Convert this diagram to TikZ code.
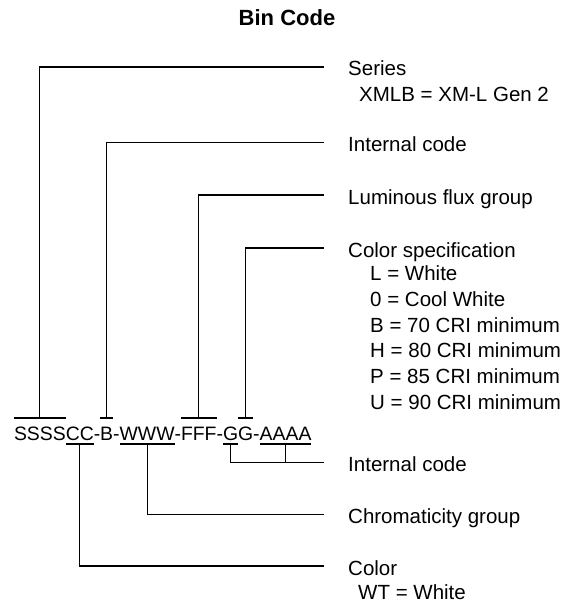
\documentclass[tikz,border=0pt]{standalone}
\usepackage{fontspec}
\setmainfont{Liberation Sans}
\usetikzlibrary{positioning,calc}
\newcommand{\lblfont}{\fontsize{20.5}{24}\selectfont}
\newcommand{\codefont}{\fontsize{19.4}{23}\selectfont}
\tikzset{
  lbl/.style={anchor=base west,inner sep=0pt,font=\lblfont},
  chr/.style={inner sep=0pt,outer sep=0pt,font=\codefont},
  ln/.style={line width=1.1pt},
}

\begin{document}
\begin{tikzpicture}[x=1pt,y=-1pt]
  \def\up{22}    % tick above baseline
  \def\dn{4}     % underline below baseline
  \def\gap{24pt} % space before a label
  \useasboundingbox (0,0) rectangle (575,604);
  \node[anchor=base,inner sep=0pt,font=\fontsize{22}{26}\selectfont\bfseries] (title) at (287,26) {Bin Code};
  % the code
  \node[chr,anchor=base west] (s) at (14,440) {SSSS};
  \node[chr,base right=0pt of s] (c) {CC};
  \node[chr,base right=0pt of c] (h1) {-};
  \node[chr,base right=0pt of h1] (b) {B};
  \node[chr,base right=0pt of b] (h2) {-};
  \node[chr,base right=0pt of h2] (w) {WWW};
  \node[chr,base right=0pt of w] (h3) {-};
  \node[chr,base right=0pt of h3] (f) {FFF};
  \node[chr,base right=0pt of f] (h4) {-};
  \node[chr,base right=0pt of h4] (g1) {G};
  \node[chr,base right=0pt of g1] (g2) {G};
  \node[chr,base right=0pt of g2] (h5) {-};
  \node[chr,base right=0pt of h5] (a) {AAAA};
  % labels
  \node[lbl] (series) at (348,76) {Series};
  \node[lbl] (seriesA) at (359,101.7) {XMLB = XM-L Gen 2};
  \node[lbl] (icode) at (348,151.7) {Internal code};
  \node[lbl] (lumen) at (348,204) {Luminous flux group};
  \node[lbl] (cspec) at (348,257) {Color specification};
  \foreach \t [count=\i] in {L = White,0 = Cool White,B = 70 CRI minimum,H = 80 CRI minimum,P = 85 CRI minimum,U = 90 CRI minimum}
    \node[lbl] (cs\i) at (370,255+25.7*\i) {\t};
  \node[lbl] (icodeB) at (348,471.7) {Internal code};
  \node[lbl] (chroma) at (348,523.3) {Chromaticity group};
  \node[lbl] (color) at (348,575) {Color};
  \node[lbl] (colorA) at (358,599) {WT = White};
  % ticks over and under the code
  \foreach \n in {s,b,f,g2} {
    \coordinate (\n T) at ($(\n.base)+(0,-\up)$);
    \draw[ln] ($(\n.base west)+(0,-\up)$) -- ($(\n.base east)+(0,-\up)$);
  }
  \foreach \n in {c,w,g1,a} {
    \coordinate (\n B) at ($(\n.base)+(0,\dn)$);
    \draw[ln] ($(\n.base west)+(0,\dn)$) -- ($(\n.base east)+(0,\dn)$);
  }
  % leaders
  \draw[ln] (sT) |- ([xshift=-\gap,yshift=9pt]series.base west);
  \draw[ln] (bT) |- ([xshift=-\gap,yshift=9pt]icode.base west);
  \draw[ln] (fT) |- ([xshift=-\gap,yshift=9pt]lumen.base west);
  \draw[ln] (g2T) |- ([xshift=-\gap,yshift=9pt]cspec.base west);
  \coordinate (icEnd) at ([xshift=-\gap,yshift=9pt]icodeB.base west);
  \draw[ln] (g1B) |- (icEnd);
  \draw[ln] (aB) -- (aB |- icEnd);
  \draw[ln] (wB) |- ([xshift=-\gap,yshift=9pt]chroma.base west);
  \draw[ln] (cB) |- ([xshift=-\gap,yshift=9pt]color.base west);
\end{tikzpicture}
\end{document}
